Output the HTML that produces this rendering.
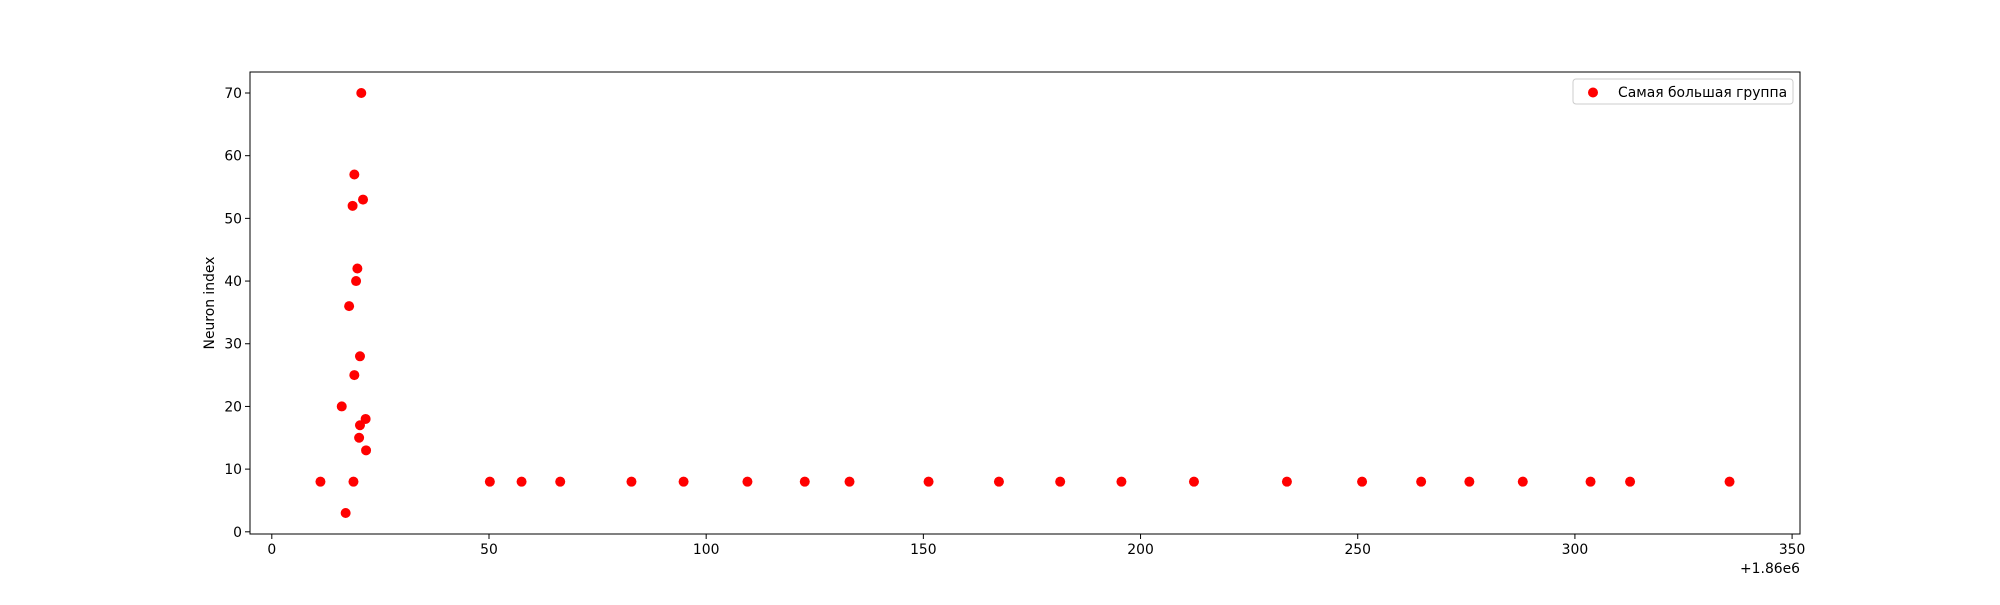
<!DOCTYPE html>
<html><head><meta charset="utf-8"><style>body{margin:0;background:#fff}svg text{font-family:"DejaVu Sans","Liberation Sans",sans-serif;font-size:13.9px;fill:#000}</style></head>
<body>
<svg id="chart" width="2000" height="600" xmlns="http://www.w3.org/2000/svg">
<rect x="0" y="0" width="2000" height="600" fill="#fff"/>
<g id="plot"></g>
</svg>
<script>
const xValues=[11.2,16.1,17.0,17.8,18.6,18.8,19.0,19.0,19.4,19.7,20.1,20.3,20.3,20.6,21.0,21.6,21.7,50.2,57.5,66.4,82.8,94.8,109.5,122.7,133,151.2,167.4,181.5,195.6,212.3,233.7,251,264.6,275.7,288,303.6,312.7,335.6];
const yValues=[8,20,3,36,52,8,25,57,40,42,15,28,17,70,53,18,13,8,8,8,8,8,8,8,8,8,8,8,8,8,8,8,8,8,8,8,8,8];
const xTicks=[0,50,100,150,200,250,300,350];
const yTicks=[0,10,20,30,40,50,60,70];
const L=250,R=1800,T=72,B=534;
const ns="http://www.w3.org/2000/svg";
const g=document.getElementById('plot');
const xmin0=Math.min(...xValues),xmax0=Math.max(...xValues);
const ymin0=Math.min(...yValues),ymax0=Math.max(...yValues);
const xm=(xmax0-xmin0)*0.05,ym=(ymax0-ymin0)*0.05;
const xmin=xmin0-xm,xmax=xmax0+xm,ymin=ymin0-ym,ymax=ymax0+ym;
const sx=v=>L+(v-xmin)/(xmax-xmin)*(R-L);
const sy=v=>B-(v-ymin)/(ymax-ymin)*(B-T);
function mk(tag,attrs){const e=document.createElementNS(ns,tag);for(const k in attrs)e.setAttribute(k,attrs[k]);g.appendChild(e);return e;}
for(let i=0;i<xValues.length;i++){
 const c=mk('circle',{cx:sx(xValues[i]),cy:sy(yValues[i]),r:5,fill:'#ff0000'});
 
 
}
const frame=mk('rect',{x:L,y:T,width:R-L,height:B-T,fill:'none',stroke:'#000','stroke-width':1});


xTicks.forEach(t=>{
 const x=sx(t);
 const l=mk('line',{x1:x,x2:x,y1:B,y2:B+5,stroke:'#000'});
 
 
 const tx=mk('text',{x:x,y:B+20,'text-anchor':'middle'});tx.textContent=t;
 
 
});
yTicks.forEach(t=>{
 const y=sy(t);
 const l=mk('line',{x1:L-5,x2:L,y1:y,y2:y,stroke:'#000'});
 
 
 const tx=mk('text',{x:L-8,y:y+5,'text-anchor':'end'});tx.textContent=t;
 
 
});
const off=mk('text',{x:R,y:573,'text-anchor':'end'});off.textContent='+1.86e6';


const yl=mk('text',{x:0,y:0,'text-anchor':'middle',transform:'translate(214,303) rotate(-90)'});yl.textContent='Neuron index';


const lb=mk('rect',{x:1573,y:79,width:220,height:25,rx:3,fill:'#fff','fill-opacity':0.8,stroke:'#ccc'});


const lm=mk('circle',{cx:1593,cy:92.5,r:5,fill:'#ff0000'});


const lt=mk('text',{x:1618,y:97});lt.textContent='Самая большая группа';


</script>
</body></html>
